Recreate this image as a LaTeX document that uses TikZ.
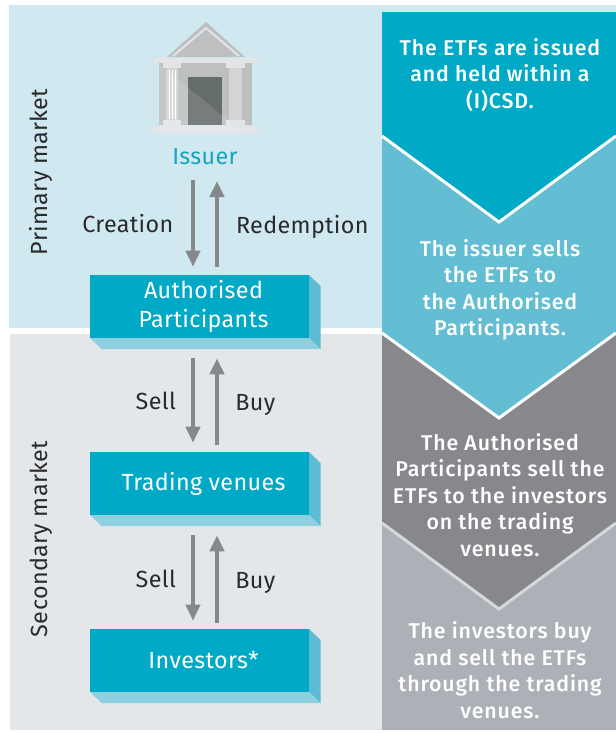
\documentclass[tikz,border=0pt]{standalone}
\usepackage{fontspec}
\setmainfont{Fira Sans}[LetterSpace=1.5]
\newfontfamily\medfont{Fira Sans Medium}[LetterSpace=4]
\usepackage{tikz}
\usetikzlibrary{arrows.meta}

\definecolor{etfteal}{HTML}{00A9C5}
\definecolor{etfside}{HTML}{5DBCD3}
\definecolor{etfbottom}{HTML}{8ECFE0}
\definecolor{primarybg}{HTML}{D0E8F0}
\definecolor{secondarybg}{HTML}{E4E7EA}
\definecolor{chevlight}{HTML}{63BED3}
\definecolor{chevdark}{HTML}{87888C}
\definecolor{chevgray}{HTML}{ADB1B7}
\definecolor{chevsep}{HTML}{D6D8DB}
\definecolor{arrowgray}{HTML}{87888C}
\definecolor{textdark}{HTML}{2A2A2A}
\definecolor{issuerteal}{HTML}{14A5C0}
\definecolor{bldgray}{HTML}{BDBFC1}
\definecolor{bldlight}{HTML}{E2E4E5}
\definecolor{bldcol}{HTML}{D2D4D5}
\definecolor{blddoor}{HTML}{656C6C}

\tikzset{
  participant/.style={minimum width=164.25pt,minimum height=47.25pt,inner sep=0pt,
    text=white,align=center,font=\fontsize{17.5}{21.75}\selectfont},
  flow/.style={arrowgray,line width=3pt,-{Triangle[width=10.5pt,length=12pt]}},
  flowtext/.style={text=textdark,text height=14pt,text depth=0pt,font=\fontsize{17.5}{20}\selectfont},
  market/.style={rotate=90,text=textdark,font=\fontsize{17.5}{20}\selectfont},
  chevtext/.style={text=white,align=center,font=\medfont\fontsize{16}{19.9}\selectfont}
}

\begin{document}
\begin{tikzpicture}[x=.75pt,y=-.75pt]
 \useasboundingbox (0,0) rectangle (616,733);
 % market panels
 \fill[primarybg] (9,5) rectangle (616,328);
 \fill[secondarybg] (10,334) rectangle (616,730);

 % chevron column
 \fill[chevgray] (382,500) rectangle (616,730);
 \fill[chevdark] (382,333) -- (499,418) -- (616,333) -- (616,523) -- (499,609) -- (382,523) -- cycle;
 \fill[chevlight] (382,136) -- (499,222) -- (616,136) -- (616,333) -- (499,418) -- (382,333) -- cycle;
 \fill[etfteal] (382,12) -- (616,12) -- (616,136) -- (499,222) -- (382,136) -- cycle;
 \draw[white,line width=2.25pt] (382,136) -- (499,222) -- (616,136);
 \draw[white,line width=2.25pt] (382,333) -- (499,418) -- (616,333);
 \draw[chevsep,line width=2.25pt] (382,523) -- (499,609) -- (616,523);

 \node[chevtext] (issued) at (500,75) {The ETFs are issued\\and held within a\\(I)CSD.};
 \node[chevtext] (sells) at (500,290) {The issuer sells\\the ETFs to\\the Authorised\\Participants.};
 \node[chevtext] (apsell) at (500,495) {The Authorised\\Participants sell the\\ETFs to the investors\\on the trading\\venues.};
 \node[chevtext] (invbuy) at (500,670) {The investors buy\\and sell the ETFs\\through the trading\\venues.};

 % market labels
 \node[market] (primary) at (41,172) {Primary market};
 \node[market] (secondary) at (41,539) {Secondary market};

 % issuer building
 \fill[bldgray] (167,57) -- (206,22) -- (245,57) -- cycle;
 \draw[bldlight,line width=1.5pt] (173,56) -- (206,28) -- (239,56);
 \fill[bldgray] (159,63) rectangle (252,125);
 \fill[bldcol] (166,68) rectangle (178,121);
 \fill[bldcol] (229,68) rectangle (242,121);
 \fill[bldlight] (163,63) rectangle (181,68);
 \fill[bldlight] (226,63) rectangle (245,68);
 \fill[bldlight] (163,120) rectangle (181,125);
 \fill[bldlight] (226,120) rectangle (245,125);
 \draw[white,line width=.6pt] (169,70) -- (169,119) (172,70) -- (172,119) (175,70) -- (175,119);
 \fill[blddoor] (188,77) rectangle (222,125);
 \fill[bldlight] (153,58) rectangle (258,63);
 \fill[bldlight] (153,126) rectangle (258,133);
 \begin{scope}
  \clip (159,58) rectangle (252,133);
  \fill[white,opacity=.12] (153,59) -- (244,133) -- (153,133) -- cycle;
 \end{scope}
 \node[text=issuerteal,font=\fontsize{17.5}{20}\selectfont] (issuer) at (205,157) {Issuer};

 % participant boxes
 \foreach \t in {275,452,629} {
  \fill[etfteal] (90,\t) rectangle (309,\t+63);
  \fill[etfside] (309,\t) -- (320.5,\t+11) -- (320.5,\t+74) -- (309,\t+63) -- cycle;
  \fill[etfbottom] (90,\t+63) -- (101.5,\t+74) -- (320.5,\t+74) -- (309,\t+63) -- cycle;
 }
 \node[participant] (ap) at (203.5,306.5) {Authorised\\Participants};
 \node[participant] (tv) at (203.5,483.5) {Trading venues};
 \node[participant] (inv) at (203.5,660.5) {Investors*};

 % flows
 \draw[flow] ([shift={(-12,23)}]issuer.center) -- ([shift={(-10.5,-8)}]ap.north)
   node[midway,left=10pt,flowtext] (creation) {Creation};
 \draw[flow] ([shift={(13.5,-8)}]ap.north) -- ([shift={(12,24)}]issuer.center)
   node[midway,right=9.5pt,flowtext] (redemption) {Redemption};
 \draw[flow] ([shift={(-10.5,20)}]ap.south) -- ([shift={(-10.5,-9)}]tv.north)
   node[midway,left=8pt,flowtext] (sell1) {Sell};
 \draw[flow] ([shift={(13.5,-7)}]tv.north) -- ([shift={(13.5,20)}]ap.south)
   node[midway,right=9pt,flowtext] (buy1) {Buy};
 \draw[flow] ([shift={(-10.5,20)}]tv.south) -- ([shift={(-10.5,-8)}]inv.north)
   node[midway,left=8pt,flowtext] (sell2) {Sell};
 \draw[flow] ([shift={(13.5,-6)}]inv.north) -- ([shift={(13.5,20)}]tv.south)
   node[midway,right=9pt,flowtext] (buy2) {Buy};
\end{tikzpicture}
\end{document}
